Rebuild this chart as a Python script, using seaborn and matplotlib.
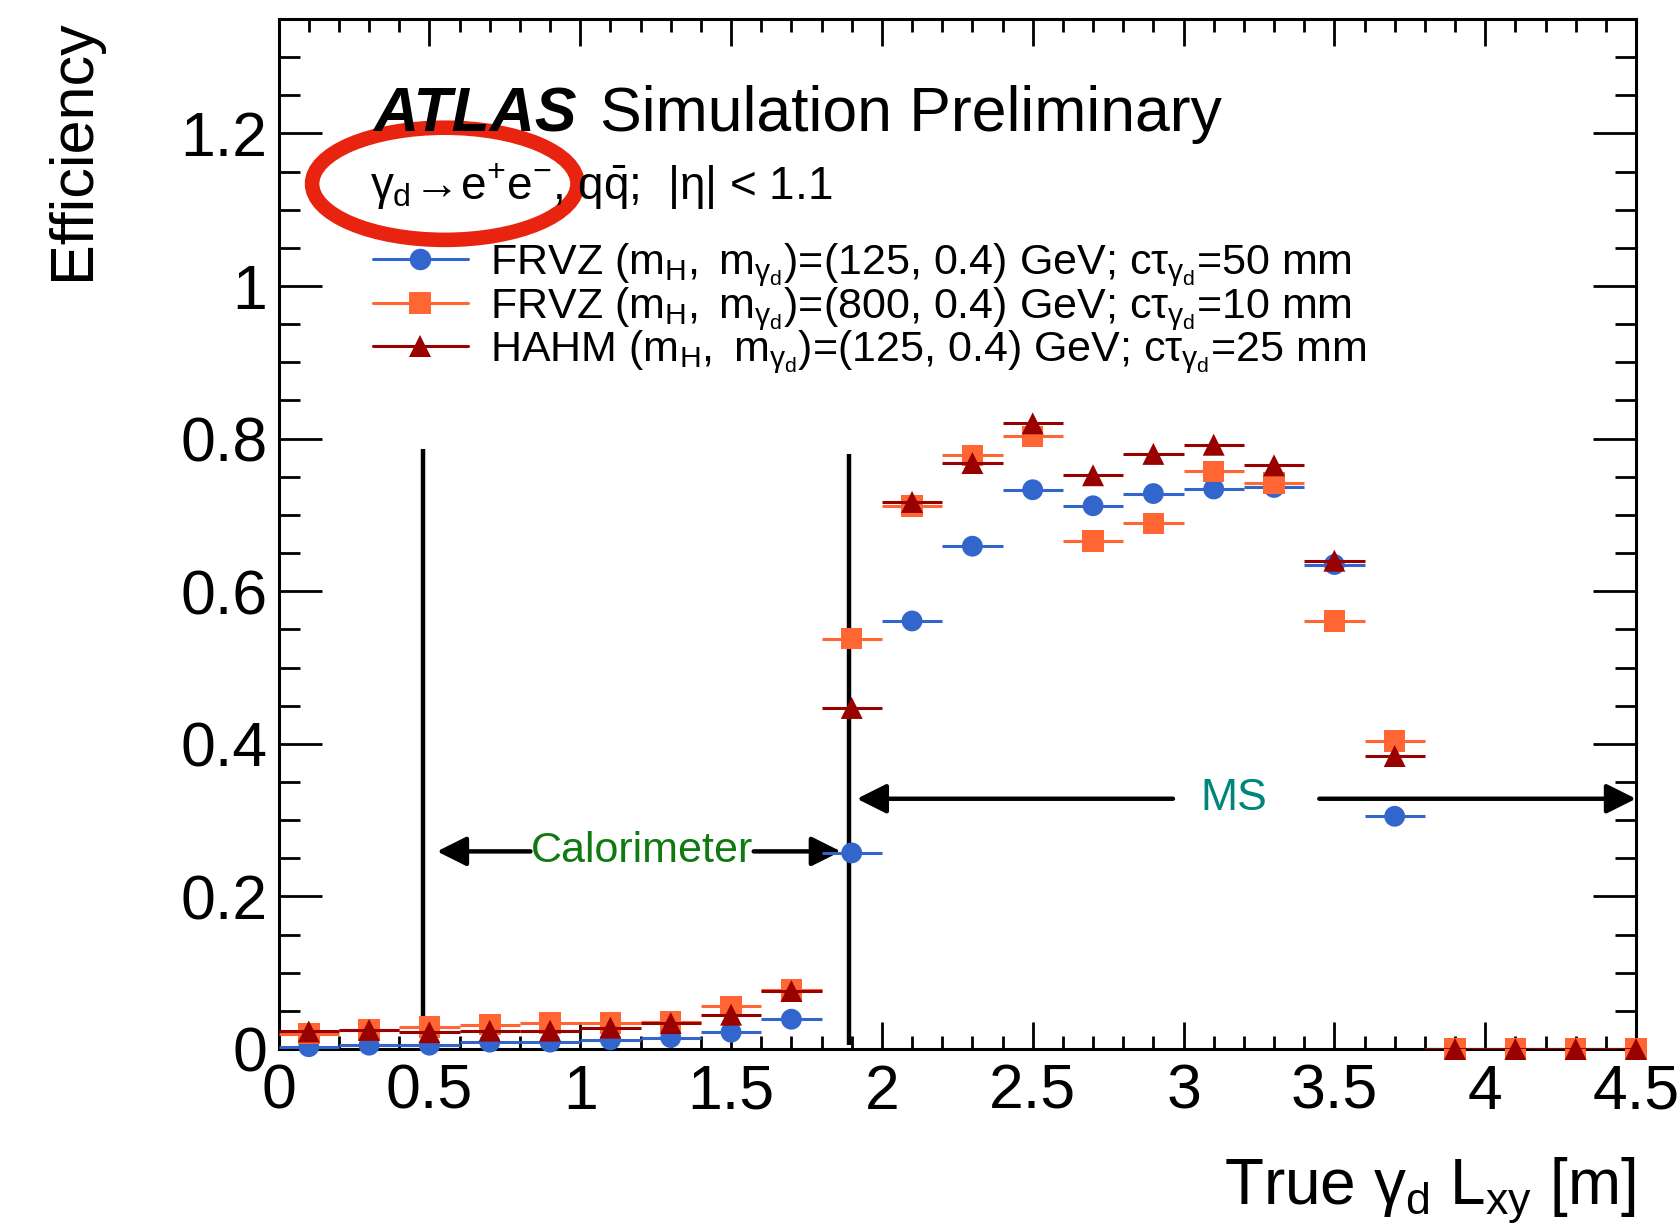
import matplotlib
matplotlib.use("Agg")
import matplotlib.pyplot as plt
from matplotlib.lines import Line2D
from matplotlib.patches import Ellipse
import numpy as np
import pandas as pd
import seaborn as sns

# ---------------- data ----------------
bin_centers = [0.1, 0.3, 0.5, 0.7, 0.9, 1.1, 1.3, 1.5, 1.7, 1.9, 2.1, 2.3,
               2.5, 2.7, 2.9, 3.1, 3.3, 3.5, 3.7, 3.9, 4.1, 4.3, 4.5]
bin_halfwidth = [0.1] * len(bin_centers)
eff_frvz125 = [0.003, 0.005, 0.005, 0.009, 0.009, 0.012, 0.015, 0.022, 0.039,
               0.257, 0.561, 0.659, 0.733, 0.712, 0.728, 0.734, 0.736, 0.635,
               0.305, 0.0, 0.0, 0.0, 0.0]
eff_frvz800 = [0.020, 0.025, 0.029, 0.032, 0.034, 0.034, 0.036, 0.056, 0.077,
               0.538, 0.712, 0.778, 0.803, 0.666, 0.689, 0.757, 0.742, 0.561,
               0.404, 0.0, 0.0, 0.0, 0.0]
eff_hahm = [0.023, 0.025, 0.022, 0.024, 0.024, 0.028, 0.034, 0.045, 0.076,
            0.447, 0.717, 0.768, 0.820, 0.752, 0.780, 0.792, 0.765, 0.640,
            0.384, 0.0, 0.0, 0.0, 0.0]
series_names = ["FRVZ125", "FRVZ800", "HAHM"]
series_labels = [
    r"FRVZ $(\mathrm{m}_{\mathrm{H}},\ \mathrm{m}_{\gamma_{\mathrm{d}}})$=(125, 0.4) GeV; c$\tau_{\gamma_{\mathrm{d}}}$=50 mm",
    r"FRVZ $(\mathrm{m}_{\mathrm{H}},\ \mathrm{m}_{\gamma_{\mathrm{d}}})$=(800, 0.4) GeV; c$\tau_{\gamma_{\mathrm{d}}}$=10 mm",
    r"HAHM $(\mathrm{m}_{\mathrm{H}},\ \mathrm{m}_{\gamma_{\mathrm{d}}})$=(125, 0.4) GeV; c$\tau_{\gamma_{\mathrm{d}}}$=25 mm",
]
series_colors = ["#3366cc", "#ff6633", "#990000"]
series_markers = ["o", "s", "^"]
series_sizes = [225, 240, 250]

x_ticks = [0, 0.5, 1, 1.5, 2, 2.5, 3, 3.5, 4, 4.5]
x_ticklabels = ["0", "0.5", "1", "1.5", "2", "2.5", "3", "3.5", "4", "4.5"]
y_ticks = [0, 0.2, 0.4, 0.6, 0.8, 1, 1.2]
y_ticklabels = ["0", "0.2", "0.4", "0.6", "0.8", "1", "1.2"]

# annotation geometry (data coords)
det_lines_x = [0.48, 1.89]
det_lines_top = [0.787, 0.780]
calo_y = 0.259
ms_y = 0.328

df = pd.DataFrame({
    "x": bin_centers * 3,
    "xerr": bin_halfwidth * 3,
    "eff": eff_frvz125 + eff_frvz800 + eff_hahm,
    "sample": sum([[n] * len(bin_centers) for n in series_names], []),
})

# ---------------- style ----------------
sns.set_theme(style="ticks")
plt.rcParams["font.family"] = ["Liberation Sans", "DejaVu Sans"]
plt.rcParams["mathtext.fontset"] = "custom"
plt.rcParams["mathtext.rm"] = "Liberation Sans"
plt.rcParams["mathtext.it"] = "Liberation Sans"
plt.rcParams["mathtext.bf"] = "Liberation Sans:bold"
plt.rcParams["axes.linewidth"] = 2.2
plt.rcParams["text.color"] = "black"
plt.rcParams["axes.labelcolor"] = "black"
plt.rcParams["xtick.color"] = "black"
plt.rcParams["ytick.color"] = "black"

fig = plt.figure(figsize=(16.8, 12.31), dpi=100)
fig.patch.set_facecolor("white")
ax = fig.add_axes([0.16583, 0.14785, 0.80798, 0.83672])
ax.set_facecolor("white")

for i, (name, col, mk, sz) in enumerate(zip(series_names, series_colors,
                                             series_markers, series_sizes)):
    sub = df[df["sample"] == name]
    ax.errorbar(sub["x"], sub["eff"], xerr=sub["xerr"], fmt="none",
                ecolor=col, elinewidth=2.2, capsize=0, zorder=3 + 2 * i)
    sns.scatterplot(data=sub, x="x", y="eff", ax=ax, color=col, marker=mk,
                    s=sz, linewidth=0, edgecolor="none", legend=False,
                    zorder=4 + 2 * i, clip_on=False)

ax.set_xlim(0, 4.5)
ax.set_ylim(0, 1.35)
ax.set_xticks(x_ticks)
ax.set_xticklabels(x_ticklabels)
ax.set_yticks(y_ticks)
ax.set_yticklabels(y_ticklabels)
ax.set_xticks(np.arange(0, 4.5001, 0.1), minor=True)
ax.set_yticks(np.arange(0, 1.3501, 0.05), minor=True)
ax.tick_params(axis="both", which="both", direction="in", top=True,
               right=True, width=2.0, color="black", labelsize=45,
               labelcolor="black")
ax.tick_params(axis="x", which="major", length=19.5, pad=10)
ax.tick_params(axis="x", which="minor", length=9.5)
ax.tick_params(axis="y", which="major", length=31, pad=8)
ax.tick_params(axis="y", which="minor", length=15)
for sp in ax.spines.values():
    sp.set_visible(True)
    sp.set_color("black")
    sp.set_linewidth(2.2)

ax.set_xlabel(r"True $\gamma_{\mathrm{d}}$ L$_{\mathrm{xy}}$ [m]", fontsize=46,
              loc="right", color="black")
ax.xaxis.set_label_coords(1.0, -0.104)
ax.set_ylabel("Efficiency", fontsize=44, loc="top", color="black")
ax.yaxis.set_label_coords(-0.130, 1.0)

# detector region lines and arrows
ax.vlines(det_lines_x, 0.005, det_lines_top, colors="black", lw=3.2, zorder=2)

arrow_kw = dict(arrowstyle="-|>,head_length=0.4,head_width=0.2", color="black",
                lw=3.2, mutation_scale=45, shrinkA=0, shrinkB=0)
ax.annotate("", xy=(0.525, calo_y), xytext=(0.835, calo_y),
            arrowprops=arrow_kw, zorder=2)
ax.annotate("", xy=(1.864, calo_y), xytext=(1.575, calo_y),
            arrowprops=arrow_kw, zorder=2)
ax.text(1.205, calo_y, "Calorimeter", color="#0f7a0f", fontsize=31,
        ha="center", va="center", zorder=2)
ax.annotate("", xy=(1.917, ms_y), xytext=(2.965, ms_y),
            arrowprops=arrow_kw, zorder=2)
ax.annotate("", xy=(4.5, ms_y), xytext=(3.45, ms_y),
            arrowprops=arrow_kw, zorder=2, annotation_clip=False)
ax.text(3.165, ms_y, "MS", color="#00857a", fontsize=32,
        ha="center", va="center", zorder=2)

# ATLAS label
fig.text(373 / 1680, 1 - 131 / 1231, "ATLAS", fontsize=45, fontweight="bold",
         fontstyle="italic", ha="left", va="baseline", color="black")
fig.text(600 / 1680, 1 - 131 / 1231, "Simulation Preliminary", fontsize=45,
         ha="left", va="baseline", color="black")
fig.text(370 / 1680, 1 - 200 / 1231,
         r"$\gamma_{\mathrm{d}}\!\rightarrow\!\mathrm{e}^{+}\mathrm{e}^{-}$, $\mathrm{q}\bar{\mathrm{q}}$;  $|\eta|$ < 1.1",
         fontsize=33, ha="left", va="baseline", color="black")

# legend (manual, figure pixel coords)
row_centers = [259, 303, 346]
for yc, lab, col, mk in zip(row_centers, series_labels, series_colors,
                            series_markers):
    yf = 1 - yc / 1231
    fig.add_artist(Line2D([373 / 1680, 468 / 1680], [yf, yf], color=col,
                          lw=2.2, transform=fig.transFigure))
    fig.add_artist(Line2D([420 / 1680], [yf], color=col, marker=mk,
                          markersize=15.5, markeredgewidth=0, lw=0,
                          transform=fig.transFigure))
    fig.text(490 / 1680, 1 - (yc + 15) / 1231, lab, fontsize=31,
             ha="left", va="baseline", color="black")

# red highlight ellipse
ax.add_patch(Ellipse((0.551, 1.134), 0.88, 0.147, fill=False,
                     edgecolor="#e8230f", lw=10.5, clip_on=False, zorder=20))

fig.savefig("out.png", dpi=100, facecolor="white")
